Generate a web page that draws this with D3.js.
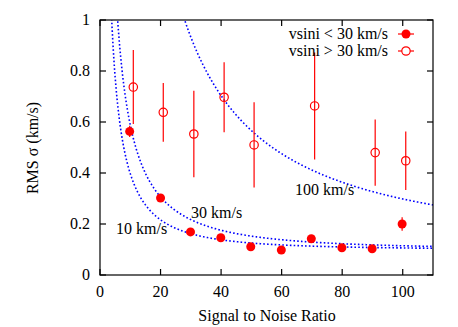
<!DOCTYPE html>
<html><head><meta charset="utf-8">
<script src="https://cdn.jsdelivr.net/npm/d3@7"></script>
</head><body style="margin:0">
<script>
// Data
const lowX = [9.8, 20, 29.9, 39.9, 49.8, 59.9, 69.8, 79.9, 89.9, 99.8];
const lowY = [0.563, 0.302, 0.169, 0.146, 0.111, 0.098, 0.142, 0.107, 0.103, 0.200];
const lowErr = [0.022, 0.01, 0.008, 0.008, 0.008, 0.008, 0.008, 0.008, 0.008, 0.026];
const highX = [11, 20.9, 31, 41, 50.9, 70.9, 90.9, 101];
const highY = [0.737, 0.638, 0.553, 0.697, 0.510, 0.663, 0.480, 0.448];
const highErr = [0.145, 0.115, 0.17, 0.137, 0.167, 0.21, 0.13, 0.115];
// model curves sigma = sqrt(b^2 + (a/SNR)^2)
const curveNames = ["10 km/s", "30 km/s", "100 km/s"];
const curveA = [3.85, 5.8, 27.8];
const curveB = [0.0989, 0.0989, 0.108];
const xTicks = [0, 20, 40, 60, 80, 100];
const yTicks = [0, 0.2, 0.4, 0.6, 0.8, 1];
const yTickLabels = ["0", "0.2", "0.4", "0.6", "0.8", "1"];
const legendLabels = ["vsini < 30 km/s", "vsini > 30 km/s"];

const W = 458, H = 327;
const m = {l: 100, r: 25, t: 20, b: 52};
const FF = "'Liberation Serif', monospace";
const svg = d3.select("body").append("svg").attr("width", W).attr("height", H);
const x = d3.scaleLinear().domain([0, 110]).range([m.l, W - m.r]);
const y = d3.scaleLinear().domain([0, 1]).range([H - m.b, m.t]);
const fs = 16;
function txt(xp, yp, s, anchor) {
  return svg.append("text").attr("x", xp).attr("y", yp).attr("font-family", FF)
    .style("font-family", FF)
    .attr("font-size", fs).attr("text-anchor", anchor || "start").text(s);
}

svg.append("defs").append("clipPath").attr("id", "clip")
  .append("rect").attr("x", m.l).attr("y", m.t).attr("width", W - m.r - m.l).attr("height", H - m.b - m.t);

// curves
const sx = d3.range(1, 110.01, 0.25);
const line = d3.line().x(d => x(d[0])).y(d => y(d[1]));
curveA.forEach((a, i) => {
  const b = curveB[i];
  const pts = sx.map(s => [s, Math.sqrt(b * b + (a / s) * (a / s))]).filter(p => p[1] < 1.3);
  svg.append("path").attr("d", line(pts)).attr("clip-path", "url(#clip)")
    .attr("fill", "none").attr("stroke", "#0000ff").attr("stroke-width", 1.6)
    .attr("stroke-dasharray", "1.6,2.2");
});

// curve labels
const labelPos = [[116, 234], [191, 218], [295, 195]];
curveNames.forEach((n, i) => txt(labelPos[i][0], labelPos[i][1], n));

const red = "#ff0000";
// error bars
const errG = svg.append("g").attr("stroke", red).attr("stroke-width", 1.2);
highX.forEach((v, i) => {
  errG.append("line").attr("x1", x(v)).attr("x2", x(v))
    .attr("y1", y(highY[i] - highErr[i])).attr("y2", y(highY[i] + highErr[i]));
});
lowX.forEach((v, i) => {
  errG.append("line").attr("x1", x(v)).attr("x2", x(v))
    .attr("y1", y(lowY[i] - lowErr[i])).attr("y2", y(lowY[i] + lowErr[i]));
});
// markers
highX.forEach((v, i) => {
  svg.append("circle").attr("cx", x(v)).attr("cy", y(highY[i])).attr("r", 4.2)
    .attr("fill", "none").attr("stroke", red).attr("stroke-width", 1.2);
});
lowX.forEach((v, i) => {
  svg.append("circle").attr("cx", x(v)).attr("cy", y(lowY[i])).attr("r", 4.5)
    .attr("fill", red);
});

// axes frame
const axG = svg.append("g").attr("stroke", "#000").attr("stroke-width", 1.2);
axG.append("rect").attr("x", m.l).attr("y", m.t).attr("width", W - m.r - m.l)
  .attr("height", H - m.b - m.t).attr("fill", "none");
const tl = 6;
xTicks.forEach(t => {
  axG.append("line").attr("x1", x(t)).attr("x2", x(t)).attr("y1", y(0)).attr("y2", y(0) - tl);
  axG.append("line").attr("x1", x(t)).attr("x2", x(t)).attr("y1", y(1)).attr("y2", y(1) + tl);
  txt(x(t), y(0) + 22, String(t), "middle");
});
yTicks.forEach((t, i) => {
  axG.append("line").attr("x1", x(0)).attr("x2", x(0) + tl).attr("y1", y(t)).attr("y2", y(t));
  axG.append("line").attr("x1", x(110)).attr("x2", x(110) - tl).attr("y1", y(t)).attr("y2", y(t));
  txt(x(0) - 10, y(t) + 5, yTickLabels[i], "end");
});

// axis titles
txt(267, 321, "Signal to Noise Ratio", "middle");
txt(0, 0, "RMS σ (km/s)", "middle").attr("transform", "translate(38,148) rotate(-90)");

// legend
const legY = [34, 51];
legendLabels.forEach((l, i) => {
  txt(388, legY[i] + 5, l, "end");
  svg.append("line").attr("x1", 398).attr("x2", 414).attr("y1", legY[i]).attr("y2", legY[i])
    .attr("stroke", red).attr("stroke-width", 1.2);
  if (i === 0) svg.append("circle").attr("cx", 406).attr("cy", legY[i]).attr("r", 4.5).attr("fill", red);
  else svg.append("circle").attr("cx", 406).attr("cy", legY[i]).attr("r", 4.2).attr("fill", "#fff")
    .attr("stroke", red).attr("stroke-width", 1.2);
});
</script>
</body></html>
